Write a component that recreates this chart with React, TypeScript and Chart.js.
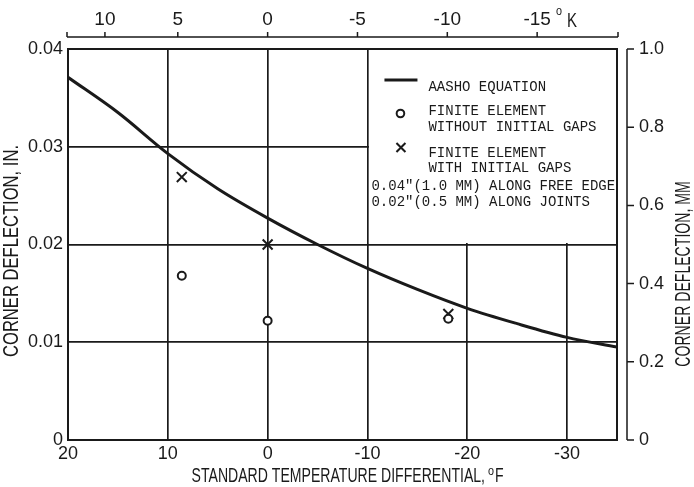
import { useEffect, useRef } from 'react';
import { Chart, registerables } from 'chart.js';

Chart.register(...registerables);

// ---- data ----
const curveTempF = [20, 15, 10, 5, 0, -5, -10, -15, -20, -25, -30, -35];
const curveDeflIn = [0.0371, 0.0335, 0.0293, 0.0257, 0.0227, 0.02, 0.01755, 0.0154, 0.01347, 0.0119, 0.0105, 0.0095];
const noGapTempF = [8.6, 0, -18.1];
const noGapDeflIn = [0.0168, 0.0122, 0.0124];
const gapTempF = [8.6, 0, -18.1];
const gapDeflIn = [0.0269, 0.02, 0.0129];
const bottomTicksF = [20, 10, 0, -10, -20, -30];
const leftTicksIn = [0, 0.01, 0.02, 0.03, 0.04];
const rightTicksMm = [0, 0.2, 0.4, 0.6, 0.8, 1.0];
const topTickPosF = [16.3, 9, 0, -9, -18, -27];
const topTickLabelsK = ['10', '5', '0', '-5', '-10', '-15'];
const legendLabels = ['AASHO EQUATION', 'FINITE ELEMENT', 'WITHOUT INITIAL GAPS', 'FINITE ELEMENT', 'WITH INITIAL GAPS'];
const legendNotes = ['0.04"(1.0 MM) ALONG FREE EDGE', '0.02"(0.5 MM) ALONG JOINTS'];
const xTitle = 'STANDARD TEMPERATURE DIFFERENTIAL,';
const yTitle = 'CORNER DEFLECTION, IN.';
const yRTitle = 'CORNER DEFLECTION, MM';

const SANS = "'Liberation Sans', Arial, sans-serif";
const MONO = "'Liberation Mono', 'DejaVu Sans Mono', monospace";
const INK = '#1a1a1a';

function narrowText(ctx: any, text: string, x: number, y: number, size: number, sx: number, rot: number, align: string) {
  ctx.save();
  ctx.translate(x, y);
  if (rot) ctx.rotate(rot);
  ctx.scale(sx, 1);
  ctx.font = `${size}px ${SANS}`;
  ctx.textAlign = align;
  ctx.textBaseline = 'alphabetic';
  ctx.fillText(text, 0, 0);
  ctx.restore();
}

const decor = {
  id: 'decor',
  beforeDatasetsDraw(chart: any) {
    const { ctx, chartArea: a, scales } = chart;
    const lx = scales.x.getPixelForValue(-10);
    const ly = scales.y.getPixelForValue(0.02);
    ctx.save();
    ctx.fillStyle = '#fff';
    ctx.fillRect(lx + 1.5, a.top + 1, a.right - lx - 2.5, ly - a.top - 2.5);
    ctx.restore();
  },
  afterDraw(chart: any) {
    const { ctx, chartArea: a, scales } = chart;
    ctx.save();
    ctx.strokeStyle = INK;
    ctx.fillStyle = INK;
    // plot box
    ctx.lineWidth = 2;
    ctx.strokeRect(a.left, a.top, a.right - a.left, a.bottom - a.top);

    // top axis line + ticks
    const ty = a.top - 12;
    ctx.lineWidth = 1.5;
    ctx.beginPath();
    ctx.moveTo(a.left - 1, ty);
    ctx.lineTo(a.right + 1, ty);
    const topXs = [a.left - 1, a.right + 1, ...topTickPosF.map((v) => scales.x2.getPixelForValue(v))];
    topXs.forEach((px) => {
      ctx.moveTo(px, ty);
      ctx.lineTo(px, ty - 5);
    });
    ctx.stroke();

    // right axis line + ticks
    const rx = a.right + 10;
    const yR = scales.yR;
    ctx.beginPath();
    ctx.moveTo(rx, yR.getPixelForValue(1.0));
    ctx.lineTo(rx, yR.getPixelForValue(0));
    rightTicksMm.forEach((v) => {
      const py = yR.getPixelForValue(v);
      ctx.moveTo(rx, py);
      ctx.lineTo(rx + 7, py);
    });
    ctx.stroke();

    // axis titles (condensed drafting lettering)
    narrowText(ctx, xTitle, 485, 482, 21, 0.67, 0, 'right');
    narrowText(ctx, 'o', 488, 475, 12, 0.9, 0, 'left');
    narrowText(ctx, 'F', 495, 482, 21, 0.67, 0, 'left');
    narrowText(ctx, yTitle, 18, 251, 22, 0.754, -Math.PI / 2, 'center');
    narrowText(ctx, yRTitle, 690, 274, 22, 0.64, -Math.PI / 2, 'center');

    // degree K unit
    narrowText(ctx, 'o', 556, 15, 12, 0.9, 0, 'left');
    narrowText(ctx, 'K', 567, 27, 20, 0.75, 0, 'left');

    // legend
    const lx = scales.x.getPixelForValue(-10);
    const L = lx + 17;
    const T = a.top;
    ctx.font = `14px ${MONO}`;
    ctx.textAlign = 'left';
    ctx.textBaseline = 'alphabetic';
    ctx.lineWidth = 3;
    ctx.beginPath();
    ctx.moveTo(L, T + 31);
    ctx.lineTo(L + 33, T + 31);
    ctx.stroke();
    ctx.fillText(legendLabels[0], L + 44, T + 42);

    ctx.lineWidth = 2;
    ctx.beginPath();
    ctx.arc(L + 16, T + 64.5, 3.8, 0, Math.PI * 2);
    ctx.stroke();
    ctx.fillText(legendLabels[1], L + 44, T + 66);
    ctx.fillText(legendLabels[2], L + 44, T + 82);

    ctx.beginPath();
    ctx.moveTo(L + 12, T + 94);
    ctx.lineTo(L + 21, T + 103);
    ctx.moveTo(L + 21, T + 94);
    ctx.lineTo(L + 12, T + 103);
    ctx.stroke();
    ctx.fillText(legendLabels[3], L + 44, T + 108);
    ctx.fillText(legendLabels[4], L + 44, T + 123);

    ctx.fillText(legendNotes[0], lx + 4, T + 141);
    ctx.fillText(legendNotes[1], lx + 4, T + 157);
    ctx.restore();
  },
};

export default function App() {
  const ref = useRef<HTMLCanvasElement | null>(null);
  useEffect(() => {
    if (!ref.current) return;
    const tickFont = { family: SANS, size: 18 };
    const chart = new Chart(ref.current, {
      type: 'line',
      data: {
        datasets: [
          {
            label: 'AASHO EQUATION',
            data: curveTempF.map((x, i) => ({ x, y: curveDeflIn[i] })),
            borderColor: INK,
            borderWidth: 3,
            pointRadius: 0,
            cubicInterpolationMode: 'monotone',
            xAxisID: 'x',
            yAxisID: 'y',
          },
          {
            label: 'FINITE ELEMENT WITHOUT INITIAL GAPS',
            data: noGapTempF.map((x, i) => ({ x, y: noGapDeflIn[i] })),
            showLine: false,
            pointStyle: 'circle',
            pointRadius: 4,
            pointBorderWidth: 2,
            pointBorderColor: INK,
            pointBackgroundColor: '#fff',
            xAxisID: 'x',
            yAxisID: 'y',
          },
          {
            label: 'FINITE ELEMENT WITH INITIAL GAPS',
            data: gapTempF.map((x, i) => ({ x, y: gapDeflIn[i] })),
            showLine: false,
            pointStyle: 'crossRot',
            pointRadius: 7,
            pointBorderWidth: 2,
            pointBorderColor: INK,
            xAxisID: 'x',
            yAxisID: 'y',
          },
        ],
      },
      options: {
        responsive: false,
        animation: false,
        layout: { padding: 0 },
        plugins: { legend: { display: false }, tooltip: { enabled: false } },
        scales: {
          x: {
            type: 'linear',
            position: 'bottom',
            min: -35,
            max: 20,
            reverse: true,
            afterBuildTicks: (s: any) => {
              s.ticks = bottomTicksF.map((value) => ({ value }));
            },
            afterFit: (s: any) => {
              s.height = 47;
            },
            ticks: { font: tickFont, color: INK, padding: 3, maxRotation: 0, autoSkip: false, callback: (v: any) => String(v) },
            grid: { color: INK, lineWidth: 1.7, drawTicks: false },
            border: { display: false },
          },
          x2: {
            type: 'linear',
            position: 'top',
            min: -35,
            max: 20,
            reverse: true,
            afterBuildTicks: (s: any) => {
              s.ticks = topTickPosF.map((value) => ({ value }));
            },
            afterFit: (s: any) => {
              s.height = 49;
            },
            ticks: {
              font: { family: SANS, size: 19 },
              color: INK,
              padding: 18,
              maxRotation: 0,
              autoSkip: false,
              callback: (v: any, i: number) => topTickLabelsK[i],
            },
            grid: { display: false, drawTicks: false },
            border: { display: false },
          },
          y: {
            type: 'linear',
            position: 'left',
            min: 0,
            max: 0.04,
            afterBuildTicks: (s: any) => {
              s.ticks = leftTicksIn.map((value) => ({ value }));
            },
            afterFit: (s: any) => {
              s.width = 68;
            },
            ticks: {
              font: tickFont,
              color: INK,
              padding: 5,
              callback: (v: any) => (v === 0 ? '0' : Number(v).toFixed(2)),
            },
            grid: { color: INK, lineWidth: 1.7, drawTicks: false },
            border: { display: false },
          },
          yR: {
            type: 'linear',
            position: 'right',
            min: 0,
            max: 1.0,
            afterBuildTicks: (s: any) => {
              s.ticks = rightTicksMm.map((value) => ({ value }));
            },
            afterFit: (s: any) => {
              s.width = 77;
            },
            ticks: {
              font: { family: SANS, size: 18 },
              color: INK,
              padding: 22,
              callback: (v: any) => (v === 0 ? '0' : Number(v).toFixed(1)),
            },
            grid: { display: false, drawTicks: false },
            border: { display: false },
          },
        },
      },
      plugins: [decor],
    } as any);
    return () => chart.destroy();
  }, []);
  return (
    <div style={{ position: 'fixed', left: 0, top: 0, width: 694, height: 487, background: '#fff' }}>
      <canvas ref={ref} width={694} height={487} style={{ display: 'block' }} />
    </div>
  );
}
